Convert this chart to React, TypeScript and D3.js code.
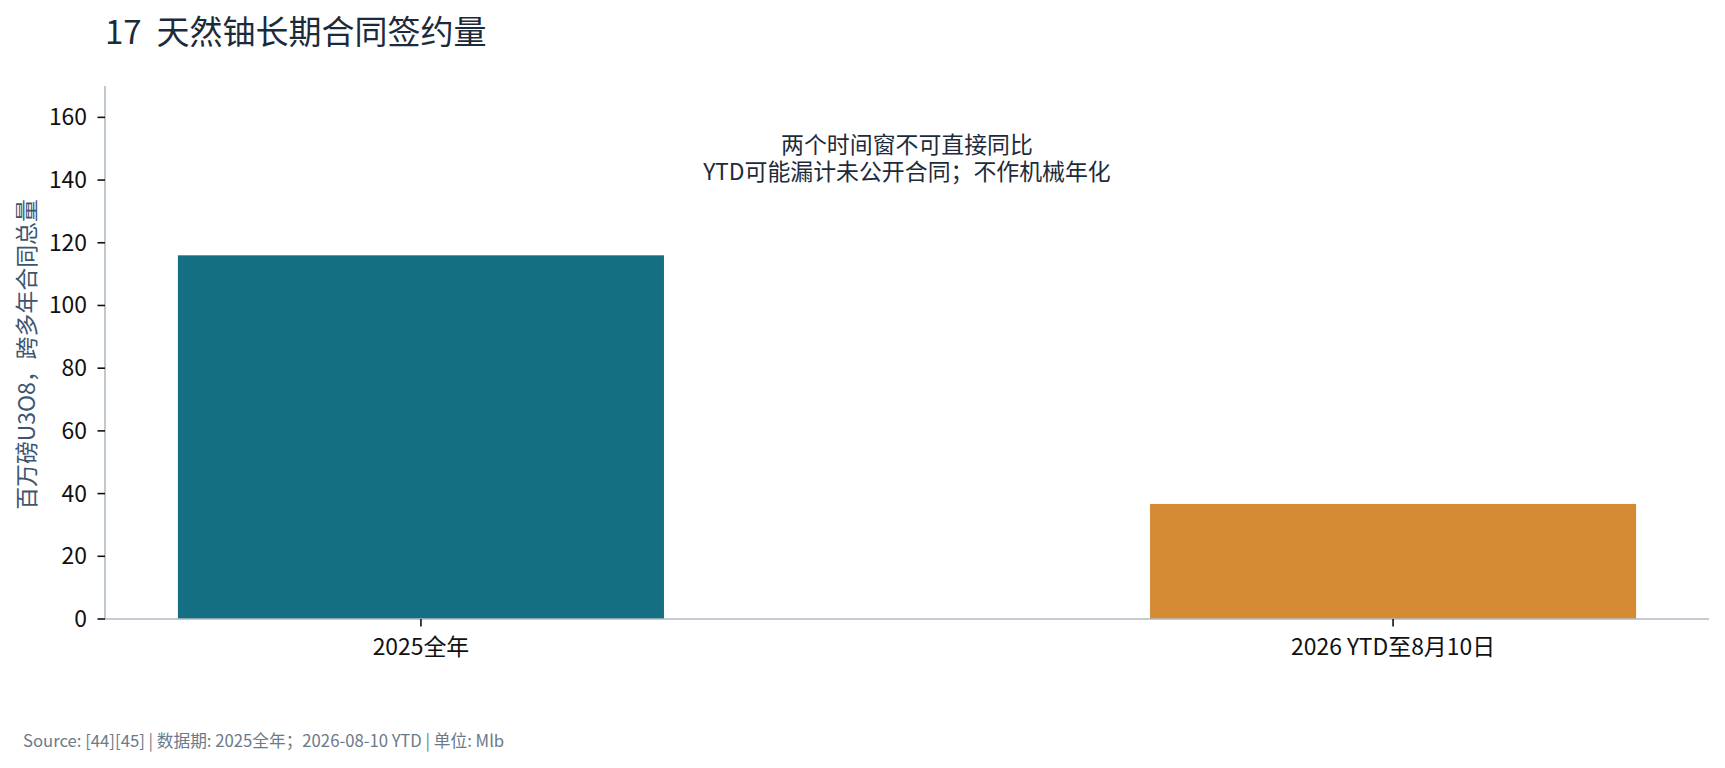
import React from 'react';
import * as d3 from 'd3';

const categories = ['2025全年', '2026 YTD至8月10日'];
const values = [116, 36.7];
const barColors = ['#156f82', '#d48b34'];
const yTicks = [0, 20, 40, 60, 80, 100, 120, 140, 160];

const title = '17  天然铀长期合同签约量';
const yLabel = '百万磅U3O8，跨多年合同总量';
const noteLines = ['两个时间窗不可直接同比', 'YTD可能漏计未公开合同；不作机械年化'];
const footer = 'Source: [44][45] | 数据期: 2025全年；2026-08-10 YTD | 单位: Mlb';

const W = 1725;
const H = 768;
const FONT = '"Noto Sans CJK SC", "Noto Sans", sans-serif';

export default function App() {
  const left = 105;
  const right = 1709;
  const top = 86;
  const bottom = 619;

  const x = d3.scaleLinear().domain([-0.325, 1.325]).range([left, right]);
  const y = d3.scaleLinear().domain([0, 170]).range([bottom, top]);
  const barW = x(0.5) - x(0);
  const cx = (left + right) / 2;

  return (
    <svg
      width={W}
      height={H}
      style={{ position: 'absolute', left: 0, top: 0, background: '#fff' }}
      fontFamily={FONT}
    >
      {/* title */}
      <text x={105} y={44} fontSize={33} fill="#1c2b3b" style={{ whiteSpace: 'pre' }}>
        {title}
      </text>

      {/* bars */}
      {values.map((v, i) => (
        <rect
          key={i}
          x={x(i) - barW / 2}
          y={y(v)}
          width={barW}
          height={y(0) - y(v)}
          fill={barColors[i]}
        />
      ))}

      {/* y axis */}
      <line x1={left} x2={left} y1={top} y2={bottom} stroke="#b0bac4" strokeWidth={1.6} />
      {yTicks.map(t => (
        <g key={t}>
          <line x1={left - 7.5} x2={left} y1={y(t)} y2={y(t)} stroke="#111" strokeWidth={1.6} />
          <text x={left - 18} y={y(t)} dy={8} textAnchor="end" fontSize={22.9} fill="#111">
            {t}
          </text>
        </g>
      ))}

      {/* x axis */}
      <line x1={left} x2={right} y1={bottom} y2={bottom} stroke="#b0bac4" strokeWidth={1.6} />
      {categories.map((c, i) => (
        <g key={c}>
          <line x1={x(i)} x2={x(i)} y1={bottom} y2={bottom + 7.5} stroke="#111" strokeWidth={1.6} />
          <text x={x(i)} y={655} textAnchor="middle" fontSize={22.9} fill="#111">
            {c}
          </text>
        </g>
      ))}

      {/* y label */}
      <text
        transform={`translate(35,${(top + bottom) / 2 + 2}) rotate(-90)`}
        textAnchor="middle"
        fontSize={22.9}
        fill="#3d5570"
      >
        {yLabel}
      </text>

      {/* note, one text block */}
      <text x={cx} y={153} textAnchor="middle" fontSize={22.9} fill="#1c2b3b">
        {noteLines.map((l, i) => (
          <tspan key={i} x={cx} dy={i === 0 ? 0 : 27}>
            {l}
          </tspan>
        ))}
      </text>

      {/* footer */}
      <text x={23} y={747} fontSize={16.7} fill="#6b7a8a">
        {footer}
      </text>
    </svg>
  );
}
